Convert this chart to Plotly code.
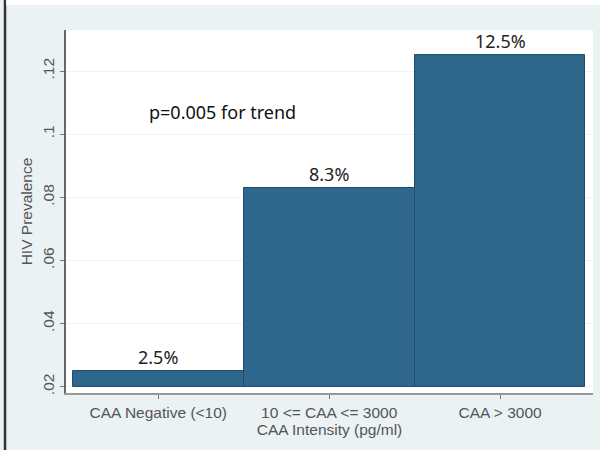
import plotly.graph_objects as go

categories = ["CAA Negative (<10)", "10 <= CAA <= 3000", "CAA > 3000"]
prevalence = [0.025, 0.083, 0.125]
bar_labels = ["2.5%", "8.3%", "12.5%"]
y_ticks = [0.02, 0.04, 0.06, 0.08, 0.10, 0.12]
y_tick_labels = [".02", ".04", ".06", ".08", ".1", ".12"]
base_value = 0.02
note_text = "p=0.005 for trend"

x_pos = list(range(len(categories)))
bar_color = "#2F668C"
edge_color = "#1F4D6C"
bg = "#EAF2F4"
label_font = "Liberation Sans, Arial"
annot_font = "Noto Sans, Liberation Sans"
lab_size = 15.5

fig = go.Figure()
fig.add_trace(go.Bar(
    x=x_pos,
    y=[v - base_value for v in prevalence],
    base=base_value,
    width=1.0,
    marker=dict(color=bar_color, line=dict(color=edge_color, width=1)),
    hoverinfo="skip",
))

for xi, v, t in zip(x_pos, prevalence, bar_labels):
    fig.add_annotation(x=xi, y=v, text=t, showarrow=False, yanchor="bottom", yshift=0,
                       font=dict(family=annot_font, size=18, color="#222222"))

fig.add_annotation(x=0.375, y=0.107, text=note_text, showarrow=False, xanchor="center",
                   font=dict(family=annot_font, size=18, color="#111111"))

# left dark border and top white band of the image
fig.add_shape(type="line", xref="paper", yref="paper", x0=-0.1157, x1=-0.1157, y0=-0.3, y1=1.3,
              line=dict(color="#333333", width=2.5))
fig.add_shape(type="rect", xref="paper", yref="paper", x0=-0.1135, x1=1.3, y0=1.0689, y1=1.3,
              line=dict(width=0), fillcolor="#FFFFFF")

fig.update_layout(
    width=600, height=450,
    margin=dict(l=66, r=7, t=30, b=57),
    paper_bgcolor=bg,
    plot_bgcolor="#FFFFFF",
    showlegend=False,
    bargap=0,
    font=dict(family=label_font, size=lab_size, color="#555555"),
    xaxis=dict(
        automargin=False,
        range=[-0.54, 2.544],
        tickmode="array", tickvals=x_pos, ticktext=categories,
        ticks="outside", ticklen=4, tickcolor="#777777",
        showline=True, linecolor="#999999", linewidth=2,
        showgrid=False, zeroline=False,
        tickfont=dict(size=lab_size, color="#555555"),
        title=dict(text="CAA Intensity (pg/ml)", standoff=2, font=dict(size=lab_size, color="#555555")),
    ),
    yaxis=dict(
        automargin=False,
        range=[0.018, 0.133],
        tickmode="array", tickvals=y_ticks, ticktext=y_tick_labels,
        tickangle=-90,
        ticks="outside", ticklen=4, tickcolor="#777777",
        ticklabelstandoff=0,
        showline=True, linecolor="#666666", linewidth=1.5,
        showgrid=True, gridcolor="#EEF3F5", gridwidth=1,
        zeroline=False,
        tickfont=dict(size=lab_size, color="#555555"),
        title=dict(text="HIV Prevalence", standoff=4, font=dict(size=lab_size, color="#555555")),
    ),
)

fig.write_html("out.html", config={"displayModeBar": False},
               post_script="document.body.style.margin='0';")
